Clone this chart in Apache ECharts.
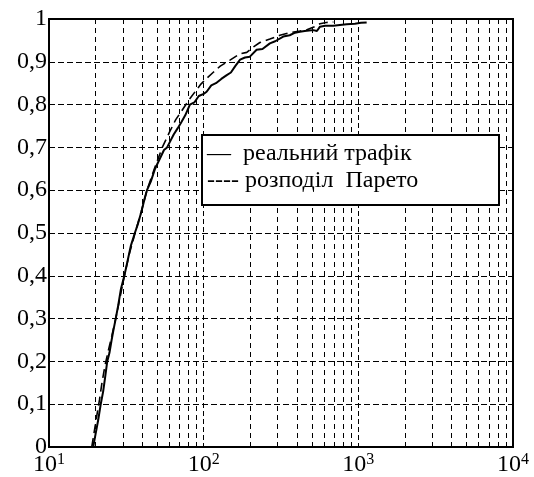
<!DOCTYPE html>
<html>
<head>
<meta charset="utf-8">
<script src="https://cdn.jsdelivr.net/npm/echarts@6/dist/echarts.min.js"></script>
<style>html,body{margin:0;padding:0;background:#fff}#c{width:534px;height:477px}</style>
</head>
<body>
<div id="c"></div>
<script>
var realX = [19.3, 20.0, 20.8, 21.6, 22.4, 23.0, 23.8, 24.6, 25.4, 26.1, 27.0, 28.0, 29.2, 30.7, 32.0, 33.8, 35.9, 37.5, 39.6, 41.5, 43.0, 45.5, 48.5, 51.5, 55.4, 58.0, 60.5, 64.0, 68.0, 72.0, 76.0, 81.5, 87.0, 93.0, 100, 104.5, 112, 120, 130, 141, 150, 160, 172, 185, 199, 220, 240, 268, 290, 327, 360, 390, 419, 450, 480, 512, 540, 565, 610, 688, 760, 840, 950, 1040, 1132];
var realY = [0, 0.03, 0.063, 0.1, 0.13, 0.16, 0.2, 0.22, 0.25, 0.273, 0.3, 0.33, 0.37, 0.4, 0.43, 0.47, 0.5, 0.52, 0.55, 0.58, 0.6, 0.62, 0.65, 0.67, 0.694, 0.70, 0.713, 0.73, 0.745, 0.76, 0.775, 0.8, 0.805, 0.82, 0.825, 0.83, 0.845, 0.85, 0.86, 0.869, 0.875, 0.89, 0.905, 0.91, 0.912, 0.928, 0.93, 0.943, 0.948, 0.959, 0.962, 0.968, 0.970, 0.972, 0.973, 0.974, 0.972, 0.982, 0.984, 0.984, 0.986, 0.988, 0.989, 0.991, 0.992];
var paretoX = [18.9, 19.5, 20.3, 21.2, 22.0, 23.0, 24.0, 25.5, 27.0, 28.8, 30.7, 33.0, 36.0, 39.5, 43.0, 48.0, 54.0, 60.0, 66.0, 72.0, 80.0, 88.0, 96.0, 104.5, 115, 128, 148, 170, 190, 210, 231, 268, 311, 360, 419, 465, 520, 565, 620, 690];
var paretoY = [0, 0.03, 0.07, 0.11, 0.15, 0.19, 0.22, 0.26, 0.3, 0.35, 0.4, 0.45, 0.5, 0.55, 0.6, 0.65, 0.70, 0.735, 0.765, 0.785, 0.81, 0.83, 0.848, 0.861, 0.875, 0.89, 0.904, 0.918, 0.922, 0.935, 0.945, 0.953, 0.962, 0.968, 0.972, 0.975, 0.982, 0.989, 0.992, 0.993];
var minorGridX = [20, 30, 40, 50, 60, 70, 80, 90, 200, 300, 400, 500, 600, 700, 800, 900, 2000, 3000, 4000, 5000, 6000, 7000, 8000, 9000];
var xTickExp = {10: '1', 100: '2', 1000: '3', 10000: '4'};
var legendLabels = ['—  реальний трафік', '---- розподіл  Парето'];

function zip(a, b) { return a.map(function (v, i) { return [v, b[i]]; }); }

var FONT = '"Liberation Serif", "Times New Roman", serif';
var chart = echarts.init(document.getElementById('c'), null, {renderer: 'canvas'});
chart.setOption({
  animation: false,
  backgroundColor: '#fff',
  grid: {left: 49, right: 21, top: 19, bottom: 30, show: true, borderColor: '#000', borderWidth: 2, backgroundColor: 'transparent'},
  xAxis: {
    type: 'log', logBase: 10, min: 10, max: 10000,
    axisLine: {show: false}, axisTick: {show: false},
    splitLine: {show: true, lineStyle: {color: '#000', type: [5, 3], width: 1}},
    axisLabel: {
      margin: 5,
      formatter: function (v) { var e = xTickExp[Math.round(v)]; return '{b|10}{s|' + e + '}'; },
      rich: {
        b: {fontFamily: FONT, fontSize: 24, color: '#000'},
        s: {fontFamily: FONT, fontSize: 16, color: '#000', verticalAlign: 'top', padding: [0, 0, 10, 0]}
      }
    }
  },
  yAxis: {
    type: 'value', min: 0, max: 1, interval: 0.1,
    axisLine: {show: false}, axisTick: {show: false},
    splitLine: {show: true, lineStyle: {color: '#000', type: [6, 3], width: 1}},
    axisLabel: {
      margin: 2, fontFamily: FONT, fontSize: 24, color: '#000',
      formatter: function (v) { return (Math.round(v * 10) / 10).toString().replace('.', ','); }
    }
  },
  series: [
    {
      type: 'line', name: 'реальний трафік', data: zip(realX, realY), showSymbol: false,
      lineStyle: {color: '#000', width: 2}, z: 5,
      markLine: {
        silent: true, symbol: 'none', label: {show: false},
        lineStyle: {color: '#000', type: [5, 4], width: 1},
        data: minorGridX.map(function (v) { return {xAxis: v}; })
      }
    },
    {
      type: 'line', name: 'розподіл Парето', data: zip(paretoX, paretoY), showSymbol: false,
      lineStyle: {color: '#000', width: 1.6, type: [9, 5]}, z: 5
    }
  ],
  graphic: [
    {type: 'rect', shape: {x: 202, y: 135, width: 297, height: 70}, style: {fill: '#fff', stroke: '#000', lineWidth: 2}, z: 100},
    {type: 'text', x: 207, y: 154, style: {text: legendLabels[0], font: '24px ' + FONT, fill: '#000', textVerticalAlign: 'middle', verticalAlign: 'middle'}, z: 101},
    {type: 'text', x: 207, y: 181, style: {text: legendLabels[1], font: '24px ' + FONT, fill: '#000', textVerticalAlign: 'middle', verticalAlign: 'middle'}, z: 101}
  ]
});
</script>
</body>
</html>
